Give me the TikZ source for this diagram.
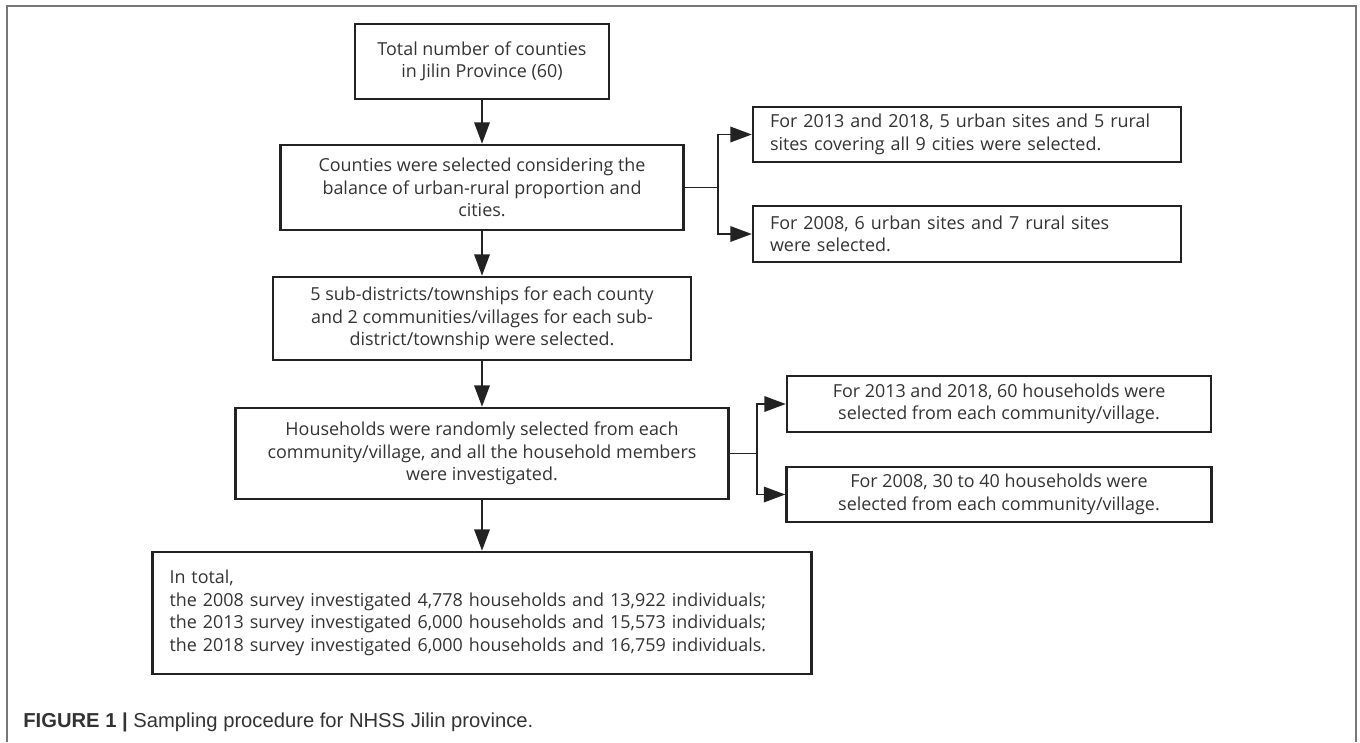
\documentclass[tikz,border=0pt]{standalone}
\usepackage{fontspec}
\setmainfont{Open Sans}
\newfontfamily\capfont{Liberation Sans}
\usetikzlibrary{arrows.meta}

\definecolor{boxline}{HTML}{222222}
\definecolor{textgray}{HTML}{333333}
\definecolor{framegray}{HTML}{777777}

\tikzset{
  stepbox/.style={draw=boxline, line width=1.4pt, inner xsep=0.34cm, inner ysep=0pt,
    align=center, text=textgray, font=\fontsize{10.2}{12.8}\selectfont},
  sidebox/.style={stepbox, align=left},
  link/.style={draw=boxline, line width=1.1pt, -{Triangle[length=0.43cm,width=0.31cm]}},
  joint/.style={draw=boxline, line width=1.1pt}
}

\begin{document}
\begin{tikzpicture}
  \useasboundingbox (0,0) rectangle (27.2,-14.84);
  % frame round the figure
  \draw[framegray, line width=0.7pt] (0.14,-14.84) -- (0.14,-0.12) -- (27.12,-0.12) -- (27.12,-14.84);

  \node[stepbox, minimum width=5.08cm, minimum height=1.50cm] (counties) at (9.64,-1.23)
    {Total number of counties\\in Jilin Province (60)};
  \node[stepbox, minimum width=8.06cm, minimum height=1.70cm] (balance) at (9.64,-3.75)
    {Counties were selected considering the\\balance of urban-rural proportion and\\cities.};
  \node[stepbox, minimum width=8.36cm, minimum height=1.66cm] (townships) at (9.64,-6.37)
    {5 sub-districts/townships for each county\\and 2 communities/villages for each sub-\\district/township were selected.};
  \node[stepbox, minimum width=9.86cm, minimum height=1.82cm] (households) at (9.64,-9.07)
    {Households were randomly selected from each\\community/village, and all the household members\\were investigated.};
  \node[sidebox, text width=12.50cm, minimum height=2.44cm] (intotal) at (9.64,-12.26)
    {In total,\\the 2008 survey investigated 4,778 households and 13,922 individuals;\\the 2013 survey investigated 6,000 households and 15,573 individuals;\\the 2018 survey investigated 6,000 households and 16,759 individuals.};

  \node[sidebox, text width=7.88cm, minimum height=1.10cm] (sites1318) at (19.34,-2.69)
    {For 2013 and 2018, 5 urban sites and 5 rural\\sites covering all 9 cities were selected.};
  \node[sidebox, text width=7.88cm, minimum height=1.12cm] (sites08) at (19.34,-4.68)
    {For 2008, 6 urban sites and 7 rural sites\\were selected.};
  \node[stepbox, minimum width=8.48cm, minimum height=1.12cm] (hh1318) at (19.98,-8.08)
    {For 2013 and 2018, 60 households were\\selected from each community/village.};
  \node[stepbox, minimum width=8.50cm, minimum height=1.10cm] (hh08) at (19.98,-9.89)
    {For 2008, 30 to 40 households were\\selected from each community/village.};

  \coordinate (fork1) at (14.36,-3.75);
  \coordinate (fork2) at (15.14,-9.07);

  % main column
  \draw[link] (counties) -- (balance);
  \draw[link] (balance) -- (townships);
  \draw[link] (townships) -- (households);
  \draw[link] (households) -- (intotal);

  % branches
  \draw[joint] (balance.east) -- (fork1);
  \draw[link] (fork1) |- (sites1318.west);
  \draw[link] (fork1) |- (sites08.west);
  \draw[joint] (households.east) -- (fork2);
  \draw[link] (fork2) |- (hh1318.west);
  \draw[link] (fork2) |- (hh08.west);

  \node[anchor=west, inner sep=0pt, text=textgray, font=\capfont\fontsize{11.5}{13}\selectfont] (caption) at (0.46,-14.44)
    {\textbf{FIGURE 1 |} Sampling procedure for NHSS Jilin province.};
\end{tikzpicture}
\end{document}
